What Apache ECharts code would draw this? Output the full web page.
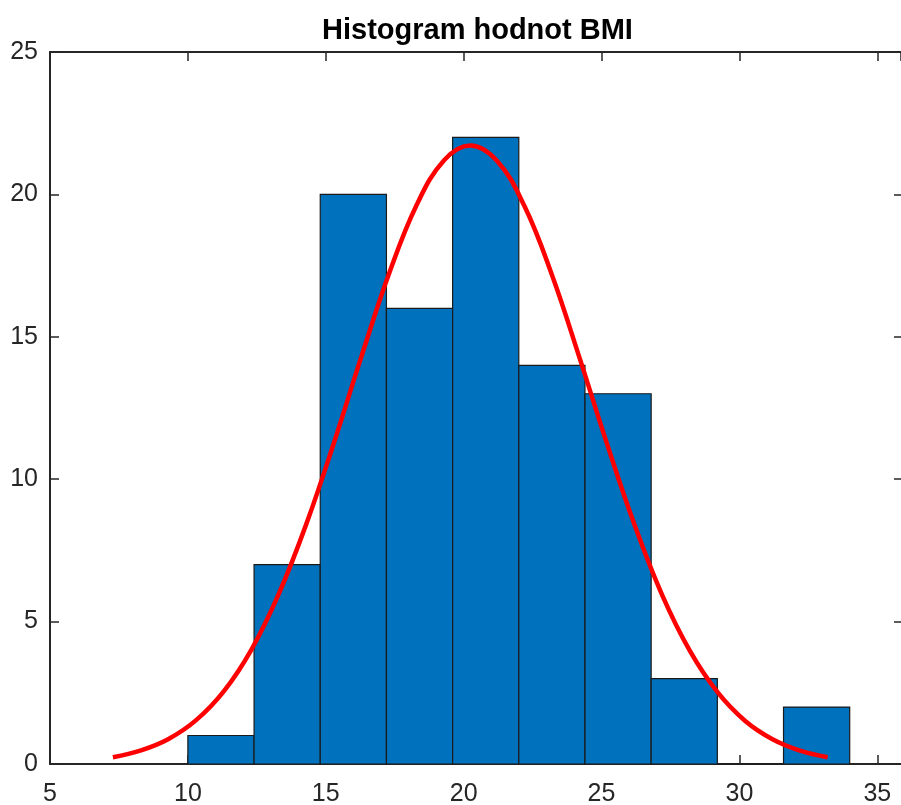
<!DOCTYPE html>
<html>
<head>
<meta charset="utf-8">
<style>
  html, body { margin: 0; padding: 0; background: #ffffff; }
  #chart { width: 901px; height: 805px; }
</style>
<script src="https://cdn.jsdelivr.net/npm/echarts@6/dist/echarts.min.js"></script>
</head>
<body>
<div id="chart"></div>
<script>
// Histogram bin edges and counts of BMI values
const binEdges = [10, 12.4, 14.8, 17.2, 19.6, 22, 24.4, 26.8, 29.2, 31.6, 34];
const binCounts = [1, 7, 20, 16, 22, 14, 13, 3, 0, 2];

// Fitted normal density curve (scaled to counts), sampled points
const fitX = [7.28, 8.3, 9.3, 10.3, 11.3, 12.3, 13.3, 14.3, 15.3, 16.3, 17.3, 18.3, 19.3, 20.24,
              21.2, 22.2, 23.2, 24.2, 25.2, 26.2, 27.2, 28.2, 29.2, 30.2, 31.2, 32.2, 33.2];
const fitY = [0.24, 0.48, 0.88, 1.54, 2.55, 4.01, 5.98, 8.44, 11.29, 14.33, 17.23, 19.64, 21.21, 21.72,
              21.19, 19.60, 17.18, 14.27, 11.24, 8.39, 5.93, 3.98, 2.53, 1.52, 0.87, 0.47, 0.24];

// Axis ranges (the right limit runs just past the visible area)
const xTicks = { min: 5, max: 35.86, interval: 5 };
const yTicks = { min: 0, max: 25, interval: 5 };

const axisColor = '#262626';
const fontFamily = 'Liberation Sans, Arial, sans-serif';

const barData = binCounts.map((c, i) => [binEdges[i], binEdges[i + 1], c]);
const curveData = fitX.map((x, i) => [x, fitY[i]]);

const chart = echarts.init(document.getElementById('chart'), null, { renderer: 'canvas' });

function boxAxis(type, position, ticks, showLabels, margin, showLine, tickLen) {
  return {
    type: 'value',
    position: position,
    min: ticks.min,
    max: ticks.max,
    interval: ticks.interval,
    splitLine: { show: false },
    axisLine: { show: showLine, onZero: false, lineStyle: { color: axisColor, width: 2 } },
    axisTick: { show: true, inside: true, length: tickLen, lineStyle: { color: axisColor, width: 1.5 } },
    axisLabel: {
      show: showLabels,
      color: axisColor,
      fontSize: 25,
      fontFamily: fontFamily,
      margin: margin,
      showMaxLabel: type === 'x' ? false : true
    }
  };
}

chart.setOption({
  animation: false,
  backgroundColor: '#ffffff',
  title: {
    text: 'Histogram hodnot BMI',
    left: 317,
    top: 11,
    textStyle: { fontFamily: fontFamily, fontWeight: 'bold', fontSize: 29, color: '#000000' }
  },
  grid: {
    left: 50, top: 52, width: 851, height: 712,
    containLabel: false,
    outerBoundsMode: 'none'
  },
  xAxis: [
    boxAxis('x', 'bottom', xTicks, true, 18, true, 9),
    boxAxis('x', 'top', xTicks, false, 0, true, 9)
  ],
  yAxis: [
    boxAxis('y', 'left', yTicks, true, 12, true, 9),
    boxAxis('y', 'right', yTicks, false, 0, false, 7)
  ],
  series: [
    {
      type: 'custom',
      name: 'histogram',
      data: barData,
      encode: { x: [0, 1], y: 2 },
      renderItem: function (params, api) {
        const p0 = api.coord([api.value(0), 0]);
        const p1 = api.coord([api.value(1), api.value(2)]);
        return {
          type: 'rect',
          shape: { x: p0[0], y: p1[1], width: p1[0] - p0[0], height: p0[1] - p1[1] },
          style: { fill: '#0072BD', stroke: '#1a1a1a', lineWidth: 1.2 }
        };
      },
      z: 2
    },
    {
      type: 'line',
      name: 'fit',
      data: curveData,
      smooth: 0.4,
      showSymbol: false,
      lineStyle: { color: '#ff0000', width: 4.5 },
      z: 3
    }
  ]
});
</script>
</body>
</html>
